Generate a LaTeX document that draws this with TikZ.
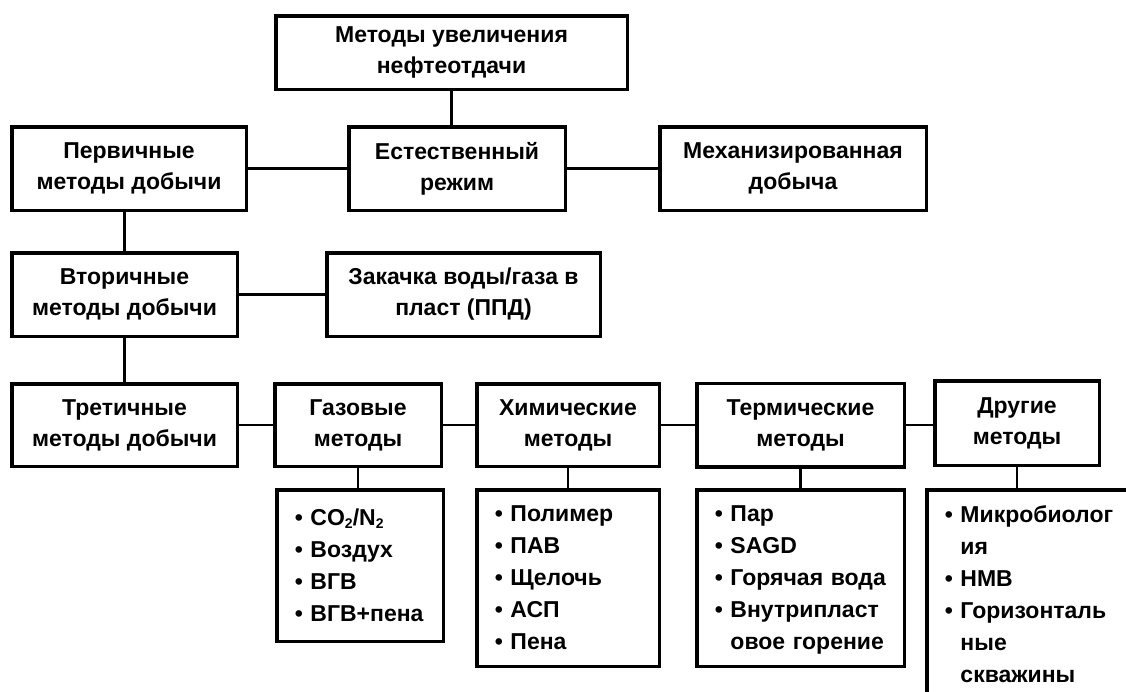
\documentclass[tikz,border=0pt]{standalone}
\usepackage{fontspec}
\setmainfont{Liberation Sans}
\newcommand{\itm}[1]{\raisebox{0pt}[\height][0pt]{\mbox{\textbullet\ #1}}}
\newcommand{\itmcont}[1]{\raisebox{0pt}[\height][0pt]{\mbox{\phantom{\textbullet\ }#1}}}
\newcommand{\subtwo}{\raisebox{-3pt}{\fontsize{14}{14}\selectfont 2}}

\begin{document}
\begin{tikzpicture}[x=1pt, y=-1pt,
  box/.style={draw, line width=3.5pt, inner sep=0pt, align=center,
    font=\bfseries\fontsize{23}{31}\selectfont},
  listbox/.style={box, align=left, inner xsep=18pt,
    font=\bfseries\fontsize{23}{32}\selectfont},
  conn/.style={line width=2.5pt}]
  \path[use as bounding box, clip] (0,0) rectangle (1126,691);

  % upper part
  \node[box, minimum width=351.5pt, minimum height=73.5pt] (top) at (451.5,52.5) {Методы увеличения\\нефтеотдачи};
  \node[box, minimum width=234.5pt, minimum height=83.5pt] (prim) at (129,168.5) {Первичные\\методы добычи};
  \node[box, minimum width=216.5pt, minimum height=83.5pt] (nat) at (457,168.5) {Естественный\\режим};
  \node[box, minimum width=266.5pt, minimum height=83.5pt] (mech) at (793,168.5) {Механизированная\\добыча};
  \node[box, minimum width=225.5pt, minimum height=83.5pt] (sec) at (124.5,294.5) {Вторичные\\методы добычи};
  \node[box, minimum width=273.5pt, minimum height=83.5pt] (inj) at (463.5,294.5) {Закачка воды/газа в\\пласт (ППД)};

  % third row
  \node[box, minimum width=225.5pt, minimum height=82.5pt] (tert) at (124.5,425) {Третичные\\методы добычи};
  \node[box, minimum width=166.5pt, minimum height=82.5pt] (gas) at (358,425) {Газовые\\методы};
  \node[box, minimum width=182.5pt, minimum height=82.5pt] (chem) at (568,425) {Химические\\методы};
  \node[box, minimum width=207.5pt, minimum height=83.5pt] (therm) at (800.5,425) {Термические\\методы};
  \node[box, minimum width=164.5pt, minimum height=84.5pt] (other) at (1017,423) {Другие\\методы};

  % lists
  \node[listbox, text width=130.5pt, minimum height=151.5pt] (gasl) at (360,565.5)
    {\itm{CO\subtwo/N\subtwo}\\\itm{Воздух}\\\itm{ВГВ}\\\itm{ВГВ+пена}};
  \node[listbox, text width=146.5pt, minimum height=176.5pt] (cheml) at (568,578)
    {\itm{Полимер}\\\itm{ПАВ}\\\itm{Щелочь}\\\itm{АСП}\\\itm{Пена}};
  \node[listbox, text width=171.5pt, minimum height=176.5pt] (therml) at (800.5,578)
    {\itm{Пар}\\\itm{SAGD}\\\itm{Горячая вода}\\\itm{Внутрипласт}\\\itmcont{овое горение}};
  \node[listbox, text width=175.5pt, minimum height=209.5pt] (otherl) at (1032.5,594.5)
    {\itm{Микробиолог}\\\itmcont{ия}\\\itm{НМВ}\\\itm{Горизонталь}\\\itmcont{ные}\\\itmcont{скважины}};

  \path[conn]
    (top.south) edge (top.south |- nat.north)
    (prim) edge (nat)
    (nat) edge (mech)
    (sec.north) edge (sec.north |- prim.south)
    (sec) edge (inj)
    (sec) edge (tert)
    (tert) edge (gas)
    (gas) edge (chem)
    (chem) edge (therm)
    (therm.east) edge (therm.east -| other.west)
    (gas.south) edge (gas.south |- gasl.north)
    (chem) edge (cheml)
    (therm) edge (therml)
    (other.south) edge (other.south |- otherl.north);
\end{tikzpicture}
\end{document}
